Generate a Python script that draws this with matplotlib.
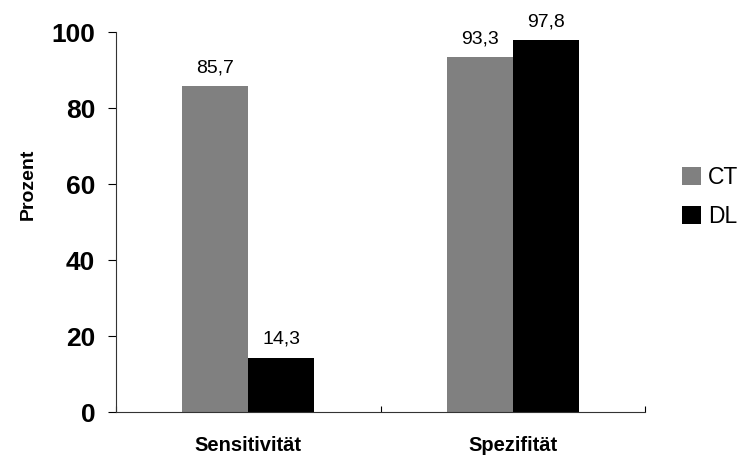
import matplotlib
matplotlib.use("Agg")
import matplotlib.pyplot as plt
import numpy as np

categories = ["Sensitivität", "Spezifität"]
ct = [85.7, 93.3]
dl = [14.3, 97.8]
series_names = ["CT", "DL"]

plt.rcParams['font.family'] = ['Liberation Sans', 'DejaVu Sans']

fig = plt.figure(figsize=(7.43, 4.57), dpi=100)
ax = fig.add_axes([116 / 743, 45 / 457, 529 / 743, 380 / 457])

x = np.arange(len(categories))
w = 0.25
b1 = ax.bar(x - w / 2, ct, w, color='#808080', label=series_names[0])
b2 = ax.bar(x + w / 2, dl, w, color='black', label=series_names[1])

def fmt(v):
    return f"{v:.1f}".replace('.', ',')

for bars, vals in ((b1, ct), (b2, dl)):
    for r, v in zip(bars, vals):
        ax.annotate(fmt(v), (r.get_x() + r.get_width() / 2, v),
                    xytext=(0, 7), textcoords='offset points',
                    ha='center', va='bottom', fontsize=14)

ax.set_xlim(-0.5, len(categories) - 0.5)
ax.set_ylim(0, 100)
ax.set_yticks([0, 20, 40, 60, 80, 100])
ax.tick_params(axis='y', direction='out', length=6, width=0.8, pad=9, labelsize=19)
for t in ax.get_yticklabels():
    t.set_fontweight('bold')

ax.set_xticks(x)
ax.set_xticklabels(categories, fontsize=14.5, fontweight='bold')
ax.tick_params(axis='x', which='major', length=0, pad=17)
ax.set_xticks(np.arange(-0.5, len(categories)), minor=True)
ax.tick_params(axis='x', which='minor', direction='in', length=4, width=0.8)

ax.spines['top'].set_visible(False)
ax.spines['right'].set_visible(False)
for s in ('left', 'bottom'):
    ax.spines[s].set_linewidth(0.8)
    ax.spines[s].set_color('#333333')

ax.set_ylabel("Prozent", fontsize=14, fontweight='bold')
ax.yaxis.set_label_coords(-0.149, 0.6)

fig.legend(loc='center left', bbox_to_anchor=(682 / 743, 1 - 197 / 457),
           frameon=False, fontsize=16.5, handlelength=0.84, handleheight=0.84,
           handletextpad=0.3, labelspacing=0.7, borderpad=0, borderaxespad=0)

fig.savefig("out.png", dpi=100)
